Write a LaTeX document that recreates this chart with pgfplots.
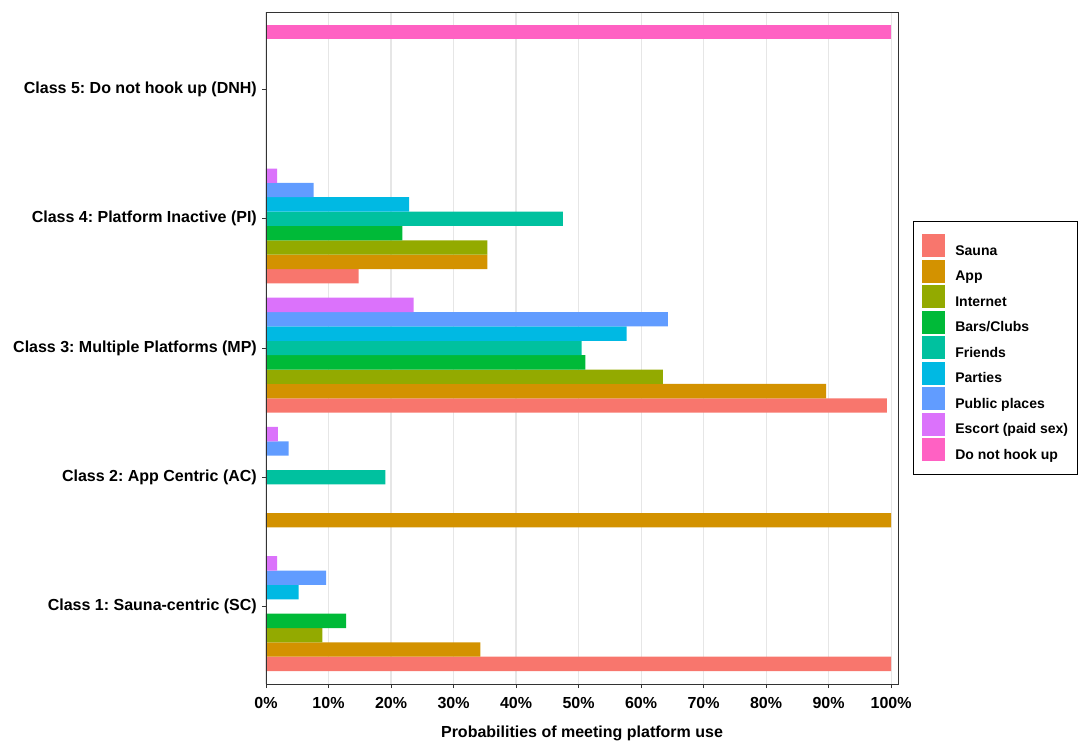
\documentclass[border=0pt]{standalone}
\usepackage{fontspec}
\setmainfont{Liberation Sans}
\usepackage{pgfplots}
\pgfplotsset{compat=1.18}
\frenchspacing
\definecolor{cSauna}{HTML}{F8766D}
\definecolor{cApp}{HTML}{D39200}
\definecolor{cInternet}{HTML}{93AA00}
\definecolor{cBars}{HTML}{00BA38}
\definecolor{cFriends}{HTML}{00C19F}
\definecolor{cParties}{HTML}{00B9E3}
\definecolor{cPublic}{HTML}{619CFF}
\definecolor{cEscort}{HTML}{DB72FB}
\definecolor{cDNH}{HTML}{FF61C3}
\definecolor{gridc}{HTML}{E6E6E6}
\definecolor{axc}{HTML}{333333}
\begin{document}
\frenchspacing
\begin{tikzpicture}
\begin{axis}[
  scale only axis,
  width=632bp, height=672bp,
  xmin=0, xmax=101.1, ymin=0.4, ymax=5.6,
  xbar, bar width=0.11111,
  xtick={0,10,...,100},
  xticklabels={0\%,10\%,20\%,30\%,40\%,50\%,60\%,70\%,80\%,90\%,100\%},
  ytick={1,2,3,4,5},
  yticklabels={Class 1: Sauna-centric (SC),Class 2: App Centric (AC),Class 3: Multiple Platforms (MP),Class 4: Platform Inactive (PI),Class 5: Do not hook up (DNH)},
  xtick pos=bottom, ytick pos=left,
  tick align=outside, major tick length=4bp,
  tick style={axc, line width=0.8bp},
  xmajorgrids, ymajorgrids=false,
  grid style={gridc, line width=1.1bp},
  axis line style={axc, line width=0.8bp},
  ticklabel style={font=\frenchspacing\fontsize{16bp}{19bp}\selectfont\bfseries, text=black},
  xticklabel style={anchor=north, inner sep=0pt, yshift=-9bp},
  yticklabel style={anchor=east, inner sep=0pt, xshift=-5bp},
  xlabel={Probabilities of meeting platform use},
  xlabel style={font=\fontsize{16bp}{19bp}\selectfont\bfseries, at={(axis description cs:0.5,0)}, anchor=base, yshift=-53bp},
  legend cell align=left,
  legend image code/.code={\fill[#1] (0bp,-6.5bp) rectangle (23bp,16.5bp);},
  legend style={at={(axis description cs:1,0.5)}, anchor=west, xshift=15bp,
    draw=black, line width=0.7bp, font=\fontsize{14bp}{16bp}\selectfont\bfseries,
    inner xsep=9bp, inner ysep=13bp, row sep=2.5bp, column sep=10bp,
    nodes={inner sep=0pt}},
]
\addplot[draw=none, fill=cSauna, bar shift=-0.44444] coordinates {(100,1) (99.3,3) (14.8,4)};
\addlegendentry{Sauna}
\addplot[draw=none, fill=cApp, bar shift=-0.33333] coordinates {(34.3,1) (100,2) (89.6,3) (35.4,4)};
\addlegendentry{App}
\addplot[draw=none, fill=cInternet, bar shift=-0.22222] coordinates {(9.0,1) (63.5,3) (35.4,4)};
\addlegendentry{Internet}
\addplot[draw=none, fill=cBars, bar shift=-0.11111] coordinates {(12.8,1) (51.1,3) (21.8,4)};
\addlegendentry{Bars/Clubs}
\addplot[draw=none, fill=cFriends, bar shift=0] coordinates {(19.1,2) (50.5,3) (47.5,4)};
\addlegendentry{Friends}
\addplot[draw=none, fill=cParties, bar shift=0.11111] coordinates {(5.2,1) (57.7,3) (22.9,4)};
\addlegendentry{Parties}
\addplot[draw=none, fill=cPublic, bar shift=0.22222] coordinates {(9.6,1) (3.6,2) (64.3,3) (7.6,4)};
\addlegendentry{Public places}
\addplot[draw=none, fill=cEscort, bar shift=0.33333] coordinates {(1.8,1) (1.9,2) (23.6,3) (1.8,4)};
\addlegendentry{Escort (paid sex)}
\addplot[draw=none, fill=cDNH, bar shift=0.44444] coordinates {(100,5)};
\addlegendentry{Do not hook up}
\draw[axc, line width=0.8bp] (rel axis cs:0,0) rectangle (rel axis cs:1,1);
\coordinate (SW) at (rel axis cs:0,0);
\end{axis}
\path (SW) ++(-266bp,-67bp) rectangle ++(1092bp,751bp);
\end{tikzpicture}
\end{document}
